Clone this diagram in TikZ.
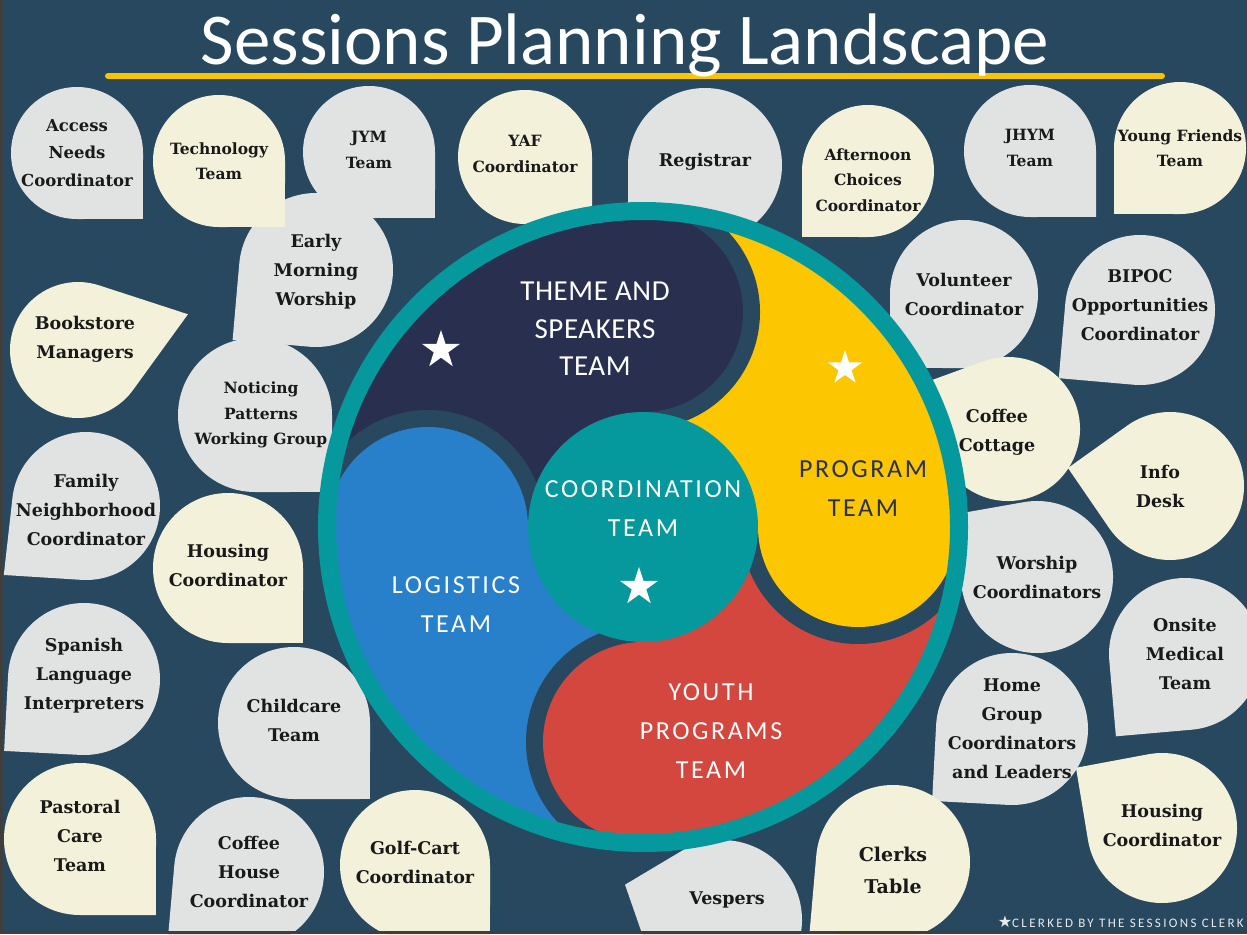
\documentclass[tikz,border=0pt]{standalone}
\usepackage{fontspec}
\setmainfont{DejaVu Serif}
\newfontfamily\teamfont{Carlito}
\newfontfamily\symbolfont{DejaVu Sans}
\usetikzlibrary{shapes.geometric}

\definecolor{pagebg}{HTML}{27485F}
\definecolor{edgegrey}{HTML}{3E3E3E}
\definecolor{bubblegrey}{HTML}{E1E2E2}
\definecolor{bubblecream}{HTML}{F3F1DA}
\definecolor{ringteal}{HTML}{05989C}
\definecolor{themenavy}{HTML}{29304F}
\definecolor{programyellow}{HTML}{FCC600}
\definecolor{youthred}{HTML}{D4473F}
\definecolor{logisticsblue}{HTML}{2880CB}
\definecolor{ruleyellow}{HTML}{F9C400}

\tikzset{
  bubbletext/.style={align=center, inner sep=0pt, text=black!90, font=\bfseries\fontsize{17.5}{29}\selectfont},
  smalltext/.style={font=\bfseries\fontsize{15.5}{25.5}\selectfont},
  teamlabel/.style={align=center, inner sep=0pt, text=white, font=\teamfont\addfontfeatures{LetterSpace=10}\fontsize{26}{39}\selectfont},
  whitestar/.style={star, star points=5, star point ratio=2.618, fill=white, inner sep=0pt, minimum size=40pt},
}

% speech bubble: a circle with one square corner
% #1 text options, #2 name, #3 centre, #4 radius, #5 corner angle, #6 tail length / radius, #7 colour, #8 text
\newcommand{\bubble}[8][]{%
  \pgfmathsetmacro\tipspread{acos(1/#6)}%
  \pgfmathsetmacro\arcstart{#5+\tipspread}%
  \pgfmathsetmacro\arcend{#5+360-\tipspread}%
  \pgfmathsetmacro\tipreach{#6*#4}%
  \fill[#7, shift={#3}] (#5:\tipreach) -- (\arcstart:#4) arc[start angle=\arcstart, end angle=\arcend, radius=#4] -- cycle;
  \node[bubbletext, #1] (#2) at #3 {#8};
}

\begin{document}
\begin{tikzpicture}[x=1pt, y=-1pt]
  \useasboundingbox (0,0) rectangle (1247,934);
  \clip (0,0) rectangle (1247,934);
  \fill[pagebg] (0,0) rectangle (1247,934);

  % title
  \draw[ruleyellow, line width=6pt, line cap=round] (108,76) -- (1162,76);
  \node[anchor=base, inner sep=0pt, text=white, font=\teamfont\fontsize{73}{80}\selectfont] (title) at (625,64) {Sessions Planning Landscape};

  % top row
  \bubble[smalltext, yshift=2pt]{jym}{(369,152)}{66}{45}{1.414}{bubblegrey}{JYM\\Team}
  \bubble[yshift=-2pt]{earlymorning}{(316,270)}{77}{140}{1.414}{bubblegrey}{Early\\Morning\\Worship}
  \bubble[font=\bfseries\fontsize{16.5}{27.5}\selectfont]{accessneeds}{(77,153)}{66}{45}{1.414}{bubblegrey}{Access\\Needs\\Coordinator}
  \bubble[smalltext]{technology}{(219,161)}{66}{45}{1.414}{bubblecream}{Technology\\Team}
  \bubble[smalltext, yshift=3pt]{yaf}{(525,157)}{67}{45}{1.414}{bubblecream}{YAF\\Coordinator}
  \bubble[yshift=3pt]{registrar}{(705,165)}{77}{135}{1.414}{bubblegrey}{Registrar}
  \bubble[smalltext, yshift=-9pt]{afternoon}{(868,171)}{66}{135}{1.414}{bubblecream}{Afternoon\\Choices\\Coordinator}
  \bubble[smalltext, yshift=3pt]{jhym}{(1030,151)}{66}{45}{1.414}{bubblegrey}{JHYM\\Team}
  \bubble[smalltext]{youngfriends}{(1180,148)}{66}{135}{1.414}{bubblecream}{Young Friends\\Team}

  % right side
  \bubble{volunteer}{(964,294)}{74}{135}{1.414}{bubblegrey}{Volunteer\\Coordinator}
  \bubble[yshift=5pt]{bipoc}{(1140,310)}{75}{140}{1.414}{bubblegrey}{BIPOC\\Opportunities\\Coordinator}
  \bubble[xshift=-11pt, yshift=-3pt]{coffeecottage}{(1008,429)}{72}{205}{1.414}{bubblecream}{Coffee\\Cottage}
  \bubble[xshift=-10pt]{infodesk}{(1170,486)}{74}{190}{1.4}{bubblecream}{Info\\Desk}
  \bubble{worship}{(1037,577)}{76}{215}{1.414}{bubblegrey}{Worship\\Coordinators}
  \bubble{onsite}{(1185,654)}{76}{130}{1.414}{bubblegrey}{Onsite\\Medical\\Team}
  \bubble{homegroup}{(1012,729)}{76}{138}{1.414}{bubblegrey}{Home\\Group\\Coordinators\\and Leaders}
  \bubble[yshift=3pt]{housingright}{(1162,828)}{75}{215}{1.4}{bubblecream}{Housing\\Coordinator}

  % bottom row
  \bubble[font=\bfseries\fontsize{19}{32}\selectfont, yshift=-8pt]{clerks}{(893,862)}{77}{140}{1.414}{bubblecream}{Clerks\\Table}
  \bubble[xshift=5pt, yshift=20pt]{vespers}{(722,920)}{80}{200}{1.29}{bubblegrey}{Vespers}
  \bubble[yshift=3pt]{golfcart}{(415,865)}{75}{45}{1.414}{bubblecream}{Golf-Cart\\Coordinator}
  \bubble{coffeehouse}{(249,872)}{75}{140}{1.414}{bubblegrey}{Coffee\\House\\Coordinator}
  \bubble[yshift=3pt]{pastoral}{(80,839)}{76}{45}{1.414}{bubblecream}{Pastoral\\Care\\Team}

  % left side
  \bubble[yshift=3pt]{childcare}{(294,723)}{76}{45}{1.414}{bubblegrey}{Childcare\\Team}
  \bubble[yshift=3pt]{spanish}{(84,679)}{76}{138}{1.414}{bubblegrey}{Spanish\\Language\\Interpreters}
  \bubble[yshift=-4pt]{family}{(86,506)}{74}{140}{1.45}{bubblegrey}{Family\\Neighborhood\\Coordinator}
  \bubble[yshift=3pt]{housingleft}{(228,568)}{75}{45}{1.414}{bubblecream}{Housing\\Coordinator}
  \bubble[smalltext, xshift=6pt]{noticing}{(255,415)}{77}{45}{1.414}{bubblegrey}{Noticing\\Patterns\\Working Group}
  \bubble[xshift=7pt, yshift=11pt]{bookstore}{(78,350)}{68}{-18}{1.7}{bubblecream}{Bookstore\\Managers}

  % the team wheel
  \begin{scope}[shift={(643,527)}]
    \begin{scope}
      \clip (0,0) circle[radius=308];
      \foreach \turn/\petal in {0/themenavy, -90/programyellow, 180/youthred, 90/logisticsblue}
        \fill[\petal, rotate=\turn] (0,0) -- (180:330) arc[start angle=180, end angle=272, radius=330] -- cycle;
      \foreach \turn/\petal in {0/themenavy, -90/programyellow, 180/youthred, 90/logisticsblue} {
        \begin{scope}[rotate=\turn]
          \begin{scope}
            \clip (0,-340) rectangle (200,-60);
            \fill[pagebg] (0,-215) circle[radius=117];
          \end{scope}
          \fill[\petal] (0,-215) circle[radius=100];
        \end{scope}
      }
    \end{scope}
    \fill[ringteal] (0,0) circle[radius=115];
    \draw[ringteal, line width=18pt] (0,0) circle[radius=316];
  \end{scope}

  \node[whitestar] (themestar) at (441,350) {};
  \node[whitestar, minimum size=36pt] (programstar) at (845,368) {};
  \node[whitestar] (coordstar) at (639,587) {};

  \node[teamlabel, font=\teamfont\addfontfeatures{LetterSpace=2}\fontsize{29}{37.5}\selectfont] (theme) at (595,329) {THEME AND\\SPEAKERS\\TEAM};
  \node[teamlabel] (coordination) at (643,509) {COORDINATION\\TEAM};
  \node[teamlabel, text=themenavy] (program) at (863,489) {PROGRAM\\TEAM};
  \node[teamlabel] (logistics) at (456,605) {LOGISTICS\\TEAM};
  \node[teamlabel] (youth) at (711,731) {YOUTH\\PROGRAMS\\TEAM};

  \node[anchor=base east, inner sep=0pt, text=white!92!black, font=\teamfont\addfontfeatures{LetterSpace=18}\fontsize{13}{15}\selectfont] (credit) at (1244,927) {{\symbolfont\fontsize{16}{16}\selectfont ★}CLERKED BY THE SESSIONS CLERK};

  % frame edges
  \fill[edgegrey] (0,0) rectangle (3,934);
  \fill[edgegrey] (0,931) rectangle (1247,934);
\end{tikzpicture}
\end{document}
